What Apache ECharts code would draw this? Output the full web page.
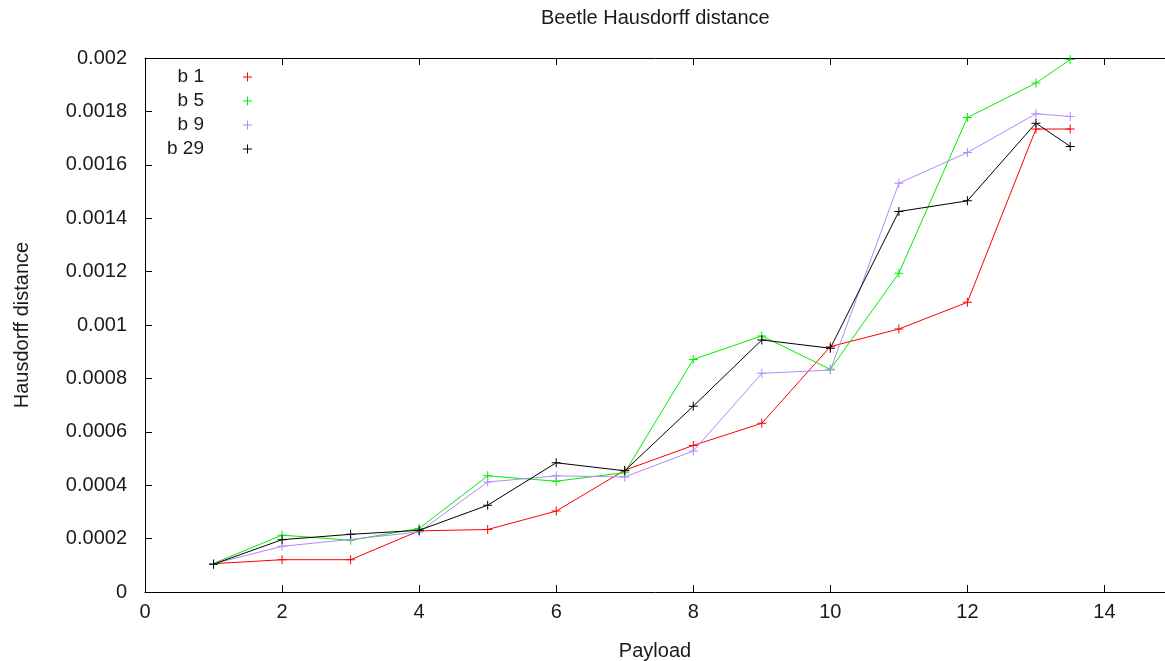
<!DOCTYPE html>
<html>
<head>
<meta charset="utf-8">
<script src="https://cdn.jsdelivr.net/npm/echarts@6/dist/echarts.min.js"></script>
<style>
  html, body { margin: 0; padding: 0; background: #fff; overflow: hidden; }
  #chart { width: 1165px; height: 661px; }
</style>
</head>
<body>
<div id="chart"></div>
<script>
// Payload values (x) and Hausdorff distance per beetle
const payload = [1, 2, 3, 4, 5, 6, 7, 8, 9, 10, 11, 12, 13, 13.5];
const b1  = [0.000106, 0.000121, 0.000121, 0.000229, 0.000234, 0.000303, 0.000456, 0.000549, 0.000632, 0.000919, 0.000985, 0.001085, 0.001734, 0.001734];
const b5  = [0.000107, 0.000213, 0.000194, 0.000238, 0.000435, 0.000415, 0.000447, 0.000871, 0.000959, 0.000834, 0.001194, 0.001777, 0.001906, 0.001994];
const b9  = [0.000106, 0.000171, 0.000197, 0.000225, 0.000412, 0.000435, 0.000431, 0.000528, 0.000819, 0.000831, 0.001531, 0.001646, 0.001791, 0.001781];
const b29 = [0.000104, 0.000196, 0.000216, 0.000231, 0.000325, 0.000484, 0.000454, 0.000696, 0.000944, 0.000913, 0.001425, 0.001465, 0.001756, 0.001669];

const seriesNames = ['b 1', 'b 5', 'b 9', 'b 29'];
const seriesData = [b1, b5, b9, b29];
const seriesColors = ['#ff0000', '#00ee00', '#b088ff', '#000000'];

const yTickLabels = ['0', '0.0002', '0.0004', '0.0006', '0.0008', '0.001', '0.0012', '0.0014', '0.0016', '0.0018', '0.002'];

// thin "+" marker, 1 unit thick in a 9x9 box
const plus = 'path://M4,0H5V4H9V5H5V9H4V5H0V4H4Z';
const font = 'Liberation Sans, Arial, sans-serif';
const textColor = '#1a1a1a';

const chart = echarts.init(document.getElementById('chart'), null, { renderer: 'canvas' });

chart.setOption({
  animation: false,
  backgroundColor: '#fff',
  title: {
    text: 'Beetle Hausdorff distance',
    left: 541,
    top: 8,
    padding: 0,
    textStyle: { fontFamily: font, fontSize: 20, fontWeight: 'normal', color: textColor }
  },
  legend: {
    orient: 'vertical',
    left: 164,
    top: 67,
    padding: 0,
    align: 'right',
    itemGap: 4,
    itemWidth: 9,
    itemHeight: 9,
    icon: plus,
    data: seriesNames,
    textStyle: {
      fontFamily: font, fontSize: 19, color: textColor,
      width: 40, align: 'right', lineHeight: 20,
      padding: [0, 34, 0, 0]
    }
  },
  // plot box runs past the right edge of the page (x max 15)
  grid: { left: 145, width: 1028, top: 58, height: 534, outerBoundsMode: 'none', containLabel: false },
  xAxis: [
    {
      type: 'value', min: 0, max: 15, interval: 2,
      name: 'Payload', nameLocation: 'middle', nameGap: 49,
      nameTextStyle: { fontFamily: font, fontSize: 20, color: textColor, padding: [0, 8, 0, 0] },
      axisLine: { show: true, lineStyle: { color: '#000', width: 1 } },
      axisTick: { show: true, inside: true, length: 7, lineStyle: { color: '#000' } },
      axisLabel: { fontFamily: font, fontSize: 20, color: textColor, margin: 10, showMaxLabel: false },
      splitLine: { show: false }
    },
    {
      type: 'value', min: 0, max: 15, interval: 2, position: 'top',
      axisLine: { show: true, lineStyle: { color: '#000', width: 1 } },
      axisTick: { show: true, inside: true, length: 7, lineStyle: { color: '#000' } },
      axisLabel: { show: false },
      splitLine: { show: false }
    }
  ],
  yAxis: {
    type: 'value', min: 0, max: 0.002, interval: 0.0002,
    name: 'Hausdorff distance', nameLocation: 'middle', nameGap: 113,
    nameTextStyle: { fontFamily: font, fontSize: 20, color: textColor },
    axisLine: { show: true, lineStyle: { color: '#000', width: 1 } },
    axisTick: { show: true, inside: true, length: 7, lineStyle: { color: '#000' } },
    axisLabel: {
      fontFamily: font, fontSize: 20, color: textColor, margin: 18,
      formatter: (v) => yTickLabels[Math.round(v / 0.0002)]
    },
    splitLine: { show: false }
  },
  series: seriesNames.map((name, i) => ({
    name: name,
    type: 'line',
    xAxisIndex: 0,
    data: payload.map((x, j) => [x, seriesData[i][j]]),
    symbol: plus,
    symbolSize: 9,
    showAllSymbol: true,
    lineStyle: { color: seriesColors[i], width: 1 },
    itemStyle: { color: seriesColors[i] },
    emphasis: { disabled: true },
    z: 2 + i
  }))
});
</script>
</body>
</html>
